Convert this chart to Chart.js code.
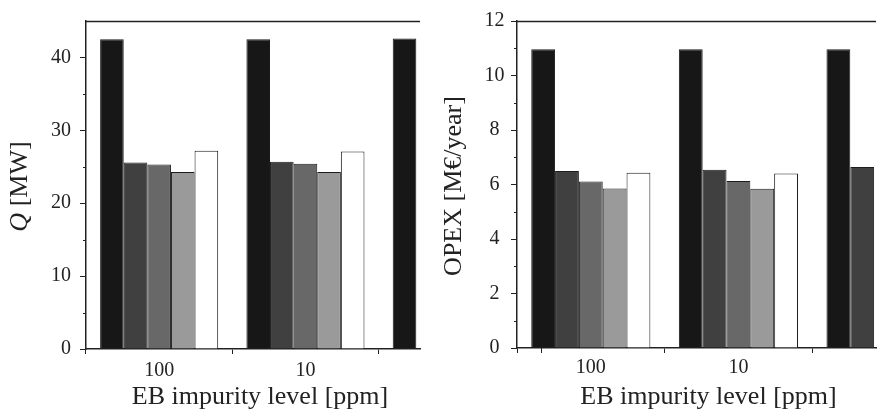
<!DOCTYPE html>
<html>
<head>
<meta charset="utf-8">
<script src="https://cdn.jsdelivr.net/npm/chart.js@4.4.0/dist/chart.umd.min.js"></script>
<style>
  html, body { margin: 0; padding: 0; background: #fff; }
  #wrap { position: relative; width: 889px; height: 410px; overflow: hidden; }
  .panel { position: absolute; top: 0; height: 410px; }
  #left { left: 0; width: 440px; }
  #right { left: 440px; width: 449px; }
</style>
</head>
<body>
<div id="wrap">
  <div class="panel" id="left"><canvas id="chartQ" width="440" height="410"></canvas></div>
  <div class="panel" id="right"><canvas id="chartOpex" width="449" height="410"></canvas></div>
</div>
<script>
// EB impurity level [ppm] - third group is cut off by the right edge of both axes
const categories = ['100', '10', '1'];

// heat duty Q [MW], one array per bar shade (black -> white)
const qBlack  = [42.5, 42.5, 42.6];
const qDark   = [25.6, 25.7, null];
const qMedium = [25.3, 25.4, null];
const qLight  = [24.3, 24.3, null];
const qWhite  = [27.2, 27.1, null];

// OPEX [M€/year]
const opexBlack  = [10.96, 10.96, 10.96];
const opexDark   = [6.50, 6.54, 6.64];
const opexMedium = [6.11, 6.13, null];
const opexLight  = [5.85, 5.84, null];
const opexWhite  = [6.43, 6.40, null];

const qTicks = [0, 10, 20, 30, 40];
const opexTicks = [0, 2, 4, 6, 8, 10, 12];

const shades = ['#171717', '#404040', '#686868', '#9a9a9a', '#ffffff'];
const serif = '"Liberation Serif", "Times New Roman", serif';

Chart.defaults.font.family = serif;
Chart.defaults.color = '#222';

// top edge of the frame, short minor ticks and the axis titles
const axisDecor = {
  id: 'axisDecor',
  afterDraw(chart, args, opts) {
    const { ctx, chartArea: area, scales: { x, y } } = chart;
    ctx.save();
    ctx.strokeStyle = '#222';
    ctx.lineWidth = 1.5;
    ctx.beginPath();
    ctx.moveTo(area.left, Math.round(area.top) + 0.5);
    ctx.lineTo(area.right, Math.round(area.top) + 0.5);
    ctx.stroke();

    ctx.lineWidth = 1;
    ctx.beginPath();
    const step = y.ticks[1].value - y.ticks[0].value;
    y.ticks.forEach(t => {
      const v = t.value + step / 2;
      if (v >= y.max) return;
      const py = Math.round(y.getPixelForValue(v)) + 0.5;
      ctx.moveTo(area.left - 3, py);
      ctx.lineTo(area.left, py);
    });
    (opts.extraXTicks || []).forEach(v => {
      const px = Math.round(x.getPixelForValue(v)) + 0.5;
      ctx.moveTo(px, area.bottom);
      ctx.lineTo(px, area.bottom + 5);
    });
    ctx.stroke();

    ctx.fillStyle = '#222';
    ctx.textBaseline = 'alphabetic';
    ctx.textAlign = 'center';
    ctx.font = '26px ' + serif;
    ctx.fillText(opts.xTitle, (area.left + area.right) / 2 + opts.xTitleShift, opts.xTitleBaseline);

    // y title is rotated; parts can be italic (the Q symbol)
    const fonts = opts.yTitle.map(p => (p[1] ? 'italic ' : '') + '26px ' + serif);
    const widths = opts.yTitle.map((p, i) => { ctx.font = fonts[i]; return ctx.measureText(p[0]).width; });
    const total = widths.reduce((a, b) => a + b, 0);
    ctx.translate(opts.yTitleBaseline, (area.top + area.bottom) / 2 + 1.5);
    ctx.rotate(-Math.PI / 2);
    ctx.textAlign = 'left';
    let pos = -total / 2;
    opts.yTitle.forEach((p, i) => {
      ctx.font = fonts[i];
      ctx.fillText(p[0], pos, 0);
      pos += widths[i];
    });
    ctx.restore();
  }
};

function makeChart(id, series, cfg) {
  const datasets = series.map((values, k) => ({
    label: 'case ' + (k + 1),
    data: values.map((v, i) => ({ x: i, y: v })),
    backgroundColor: shades[k],
    borderColor: '#1c1c1c',
    borderWidth: 1,
    borderSkipped: 'bottom',
    categoryPercentage: 0.807,
    barPercentage: 1.0,
    clip: 0
  }));

  return new Chart(document.getElementById(id), {
    type: 'bar',
    data: { datasets },
    plugins: [axisDecor],
    options: {
      responsive: false,
      animation: false,
      layout: { padding: cfg.padding },
      plugins: {
        legend: { display: false },
        tooltip: { enabled: false },
        axisDecor: cfg.decor
      },
      scales: {
        x: {
          type: 'linear',
          min: -0.5,
          max: cfg.xMax,
          offset: false,
          afterFit: s => { s.height = cfg.xHeight; },
          // one tick per category that is inside the axis; grid offset puts the marks between them
          afterBuildTicks: s => {
            s.ticks = categories.map((c, i) => ({ value: i })).filter(t => t.value <= s.max);
          },
          ticks: {
            autoSkip: false,
            maxRotation: 0,
            padding: cfg.xLabelPad,
            font: { size: 20 },
            color: '#222',
            callback: value => categories[value]
          },
          grid: { offset: true, drawOnChartArea: false, tickLength: 5, tickColor: '#222', tickWidth: 1 },
          border: { color: '#222', width: 1.5 }
        },
        y: {
          min: 0,
          max: cfg.yMax,
          afterFit: s => { s.width = cfg.yWidth; },
          afterBuildTicks: s => { s.ticks = cfg.yTicks.map(v => ({ value: v })); },
          ticks: {
            padding: cfg.yLabelPad,
            crossAlign: cfg.yAlign,
            font: { size: 20 },
            color: '#222'
          },
          grid: { drawOnChartArea: false, tickLength: 6, tickColor: '#222', tickWidth: 1 },
          border: { color: '#222', width: 1.5 }
        }
      }
    }
  });
}

makeChart('chartQ', [qBlack, qDark, qMedium, qLight, qWhite], {
  padding: { left: 0, top: 20, right: 20, bottom: 0 },
  xMax: 1.783, xHeight: 61, xLabelPad: 5,
  yMax: 45, yTicks: qTicks, yWidth: 86, yLabelPad: 9, yAlign: 'near',
  decor: {
    xTitle: 'EB impurity level [ppm]', xTitleShift: 7, xTitleBaseline: 403.5,
    yTitle: [['Q', true], [' [MW]', false]], yTitleBaseline: 27
  }
});

makeChart('chartOpex', [opexBlack, opexDark, opexMedium, opexLight, opexWhite], {
  padding: { left: 0, top: 21, right: 13, bottom: 0 },
  xMax: 1.932, xHeight: 62, xLabelPad: 3,
  yMax: 12, yTicks: opexTicks, yWidth: 77, yLabelPad: 6.5, yAlign: 'center',
  decor: {
    xTitle: 'EB impurity level [ppm]', xTitleShift: 12, xTitleBaseline: 403.5,
    yTitle: [['OPEX [M€/year]', false]], yTitleBaseline: 21,
    extraXTicks: [-0.34]
  }
});
</script>
</body>
</html>
